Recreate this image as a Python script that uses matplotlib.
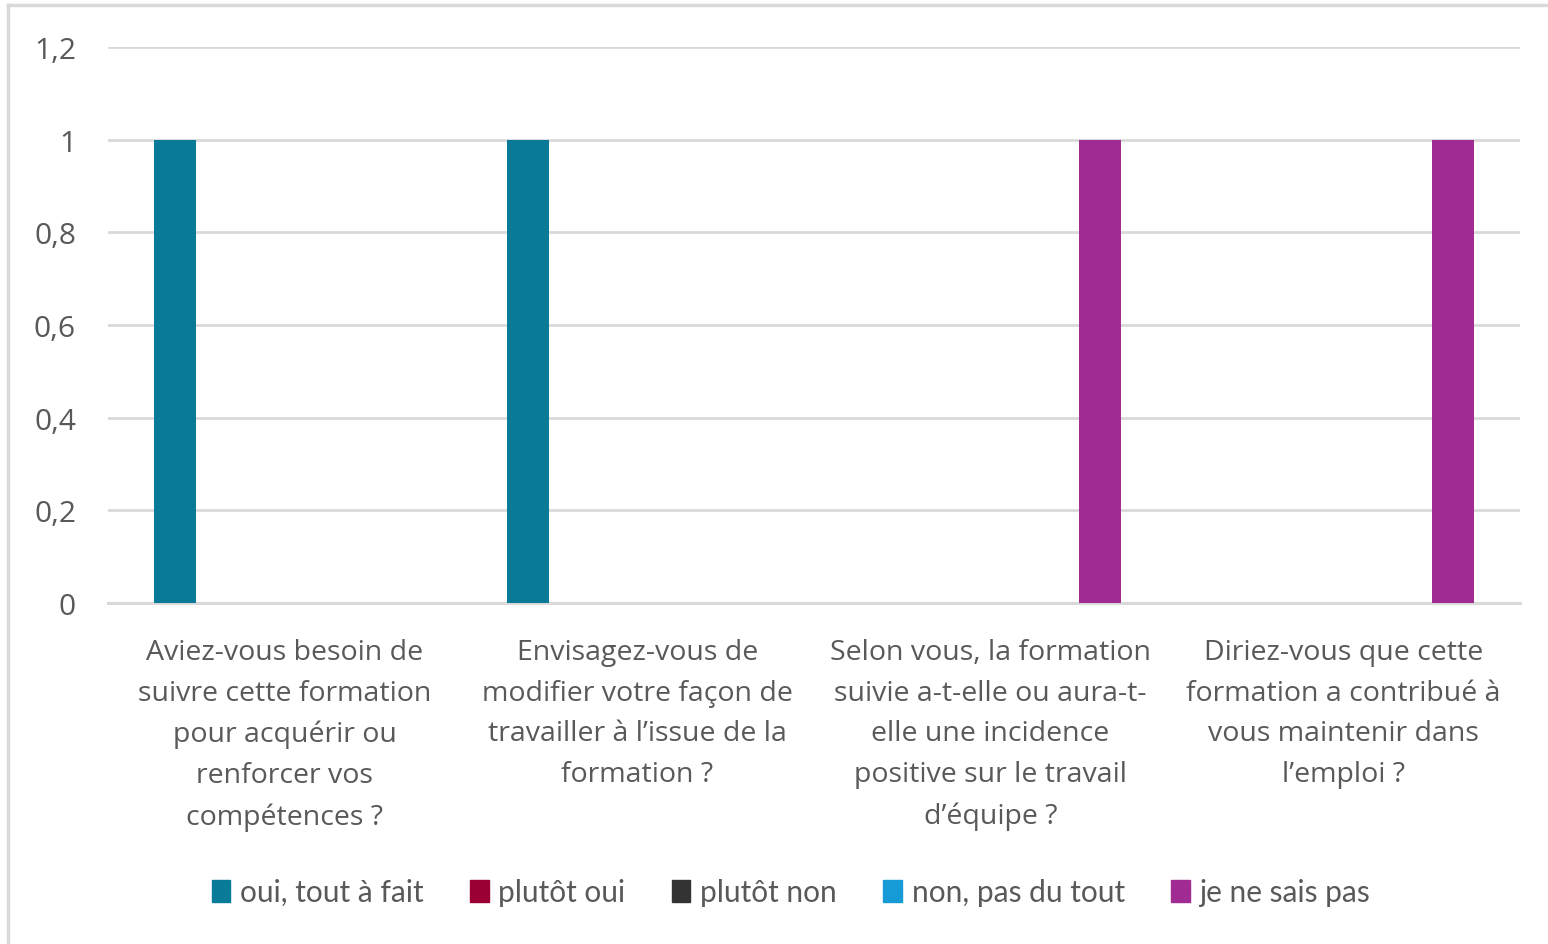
import matplotlib
matplotlib.use("Agg")
import matplotlib.pyplot as plt
import numpy as np
from matplotlib.patches import Patch
from matplotlib.lines import Line2D

categories = [
    "Aviez-vous besoin de\nsuivre cette formation\npour acquérir ou\nrenforcer vos\ncompétences ?",
    "Envisagez-vous de\nmodifier votre façon de\ntravailler à l’issue de la\nformation ?",
    "Selon vous, la formation\nsuivie a-t-elle ou aura-t-\nelle une incidence\npositive sur le travail\nd’équipe ?",
    "Diriez-vous que cette\nformation a contribué à\nvous maintenir dans\nl’emploi ?",
]
series_names = ["oui, tout à fait", "plutôt oui", "plutôt non", "non, pas du tout", "je ne sais pas"]
oui_tout_a_fait = [1, 1, 0, 0]
plutot_oui = [0, 0, 0, 0]
plutot_non = [0, 0, 0, 0]
non_pas_du_tout = [0, 0, 0, 0]
je_ne_sais_pas = [0, 0, 1, 1]
yticks = [0, 0.2, 0.4, 0.6, 0.8, 1, 1.2]
ytick_labels = ["0", "0,2", "0,4", "0,6", "0,8", "1", "1,2"]

series_values = [oui_tout_a_fait, plutot_oui, plutot_non, non_pas_du_tout, je_ne_sais_pas]
colors = ["#0A7A99", "#9A0033", "#333333", "#179BD7", "#A02B93"]

W, H = 1548, 945
fig = plt.figure(figsize=(W / 100, H / 100), dpi=100)
fig.patch.set_facecolor("white")
ax = fig.add_axes([108 / W, 1 - 604 / H, (1520 - 108) / W, (604 - 48) / H])

x = np.arange(len(categories))
spacing = 0.155
width = 0.12
for i, (vals, c) in enumerate(zip(series_values, colors)):
    ax.bar(x + (i - 2) * spacing, vals, width=width, color=c, zorder=3)

ax.set_xlim(-0.5, len(categories) - 0.5)
ax.set_ylim(0, 1.2)
ax.set_yticks(yticks)
ax.set_yticklabels(ytick_labels)
ax.yaxis.grid(True, color="#D9D9D9", linewidth=2, zorder=0)
ax.set_axisbelow(True)
for s in ["left", "right", "top"]:
    ax.spines[s].set_visible(False)
ax.spines["bottom"].set_color("#D9D9D9")
ax.spines["bottom"].set_linewidth(2.2)
ax.tick_params(axis="both", length=0, colors="#595959")
ax.tick_params(axis="y", pad=23, labelsize=21.5)
ax.set_xticks(x)
ax.set_xticklabels(categories, fontsize=20.5, linespacing=1.61, color="#595959",
                   family=["Open Sans", "DejaVu Sans"])
ax.tick_params(axis="x", pad=25)
for lab in ax.get_yticklabels():
    lab.set_family(["Open Sans", "DejaVu Sans"])

handles = [Patch(facecolor=c, edgecolor=c) for c in colors]
leg = fig.legend(handles, series_names, loc="center", bbox_to_anchor=(0.511, 1 - 893 / H),
                 ncol=5, frameon=False, handlelength=0.62, handleheight=0.75,
                 handletextpad=0.33, columnspacing=1.55,
                 prop={"family": ["Lato", "DejaVu Sans"], "size": 21.5})
for t in leg.get_texts():
    t.set_color("#595959")

# chart frame (top and left visible)
fig.add_artist(Line2D([8 / W, 8 / W], [0, 1 - 6 / H], color="#D9D9D9", linewidth=2.5,
                      transform=fig.transFigure))
fig.add_artist(Line2D([8 / W, 1], [1 - 6 / H, 1 - 6 / H], color="#D9D9D9", linewidth=2.5,
                      transform=fig.transFigure))

fig.savefig("out.png", dpi=100, facecolor="white")
